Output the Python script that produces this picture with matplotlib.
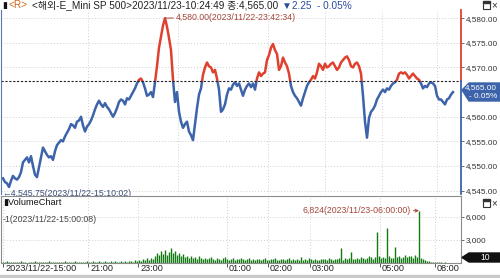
import numpy as np
import matplotlib
matplotlib.use('Agg')
import matplotlib.pyplot as plt
from matplotlib.patches import Rectangle, Polygon
from matplotlib.transforms import ScaledTranslation

plt.rcParams['font.family'] = ['Liberation Sans', 'Noto Sans CJK KR', 'DejaVu Sans']

# E-mini S&P 500, 2023/11/22 15:00 ~ 2023/11/23 10:24 (one value per chart step)
prices = [
    4547.5, 4546.75, 4546.5, 4545.75, 4547.0, 4548.0, 4547.5, 4547.25, 4547.75, 4548.75,
    4550.75, 4551.25, 4551.75, 4550.75, 4552.0, 4550.0, 4548.25, 4547.75, 4549.75, 4551.75,
    4553.75, 4553.0, 4552.25, 4551.75, 4552.0, 4551.25, 4553.0, 4554.25, 4554.75, 4555.25,
    4555.0, 4556.0, 4556.75, 4557.5, 4558.5, 4558.25, 4557.75, 4559.0, 4559.25, 4560.0,
    4558.25, 4557.0, 4558.0, 4558.5, 4559.25, 4560.25, 4561.5, 4562.5, 4563.25, 4562.5,
    4562.0, 4562.75, 4562.0, 4561.5, 4560.75, 4560.0, 4560.75, 4561.75, 4563.0, 4563.5,
    4563.25, 4562.5, 4563.75, 4563.5, 4564.25, 4565.0, 4565.75, 4566.75, 4567.5, 4567.75,
    4567.0, 4565.75, 4564.25, 4564.5, 4565.0, 4564.0, 4567.0, 4570.25, 4574.0, 4576.25,
    4578.5, 4580.0, 4578.25, 4576.0, 4573.5, 4567.5, 4563.0, 4565.0, 4561.0, 4559.0,
    4557.75, 4558.5, 4559.0, 4557.0, 4556.25, 4555.25, 4558.5, 4561.75, 4564.5, 4565.75,
    4568.5, 4570.0, 4571.0, 4570.25, 4570.0, 4569.0, 4569.5, 4567.75, 4565.5, 4561.0,
    4561.5, 4562.5, 4564.5, 4565.75,
    4565.5, 4566.5, 4567.0, 4566.25, 4566.75, 4565.5, 4564.25, 4565.5, 4566.25, 4566.75,
    4566.0, 4566.75, 4565.5, 4567.75, 4569.0, 4568.25, 4568.75, 4569.0, 4571.5, 4572.5,
    4574.0, 4574.75, 4573.5, 4572.75, 4569.5, 4570.25, 4572.0, 4571.0, 4570.25, 4568.75,
    4566.25, 4565.0, 4564.25, 4563.75, 4563.0, 4562.25, 4563.75, 4565.0, 4566.25, 4567.0,
    4567.5, 4568.25, 4567.75, 4569.0, 4570.75, 4570.25, 4569.5, 4570.75, 4570.0, 4570.25,
    4570.75, 4571.0, 4570.25, 4569.5, 4570.0,
    4571.0, 4571.5, 4572.0, 4572.25, 4571.5, 4570.25, 4570.0, 4570.75, 4571.0, 4570.25,
    4568.75, 4564.25, 4559.0, 4555.75, 4559.75, 4561.0, 4561.5, 4562.25, 4563.5, 4564.25,
    4565.0, 4565.5, 4565.0, 4565.75, 4565.5, 4566.25, 4566.75, 4567.0, 4567.5, 4568.75,
    4569.0, 4568.75, 4569.0, 4568.5, 4567.75, 4568.25, 4568.75, 4568.25, 4567.75, 4567.5,
    4566.75, 4565.75, 4566.25, 4566.0, 4566.75, 4567.0, 4566.75, 4566.25, 4564.25, 4563.5,
    4563.5, 4563.0, 4562.5, 4563.5, 4563.75, 4564.5, 4565.0,
]

volumes = [
    150, 90, 260, 120, 80, 180, 110, 70, 140, 200,
    90, 130, 60, 170, 110, 80, 220, 100, 140, 90,
    120, 70, 160, 210, 90, 130, 100, 180, 80, 150,
    110, 260, 140, 90, 170, 120, 300, 100, 150, 130,
    180, 110, 240, 160, 90, 200, 130, 170, 220, 140,
    110, 260, 180, 150, 320, 120, 200, 170, 140, 250,
    190, 300, 160, 220, 280, 180, 350, 240, 420, 300,
    520, 380, 600, 450, 700, 520, 900, 1300, 1100, 1500,
    1200, 1700, 1050, 1400, 1900, 1250, 1600, 1000, 1350, 900,
    1150, 800, 950, 700, 850, 600, 750, 500, 900, 650,
    550, 700, 480, 620, 800, 520, 450, 680, 560, 400,
    600, 750, 500, 420, 580, 650, 380, 520, 460, 700,
    550, 400, 480, 620, 350, 500, 430, 580, 470, 390,
    520, 610, 450, 360, 540, 480, 700, 420, 380, 560,
    460, 330, 500, 620, 410, 480, 370, 540, 450, 800,
    420, 510, 380, 600, 470, 350, 520, 440, 390, 580,
    460, 520, 380, 640, 500, 420, 560, 480, 600, 1950,
    450, 620, 520, 700, 1430, 560, 480, 650, 540, 720,
    600, 500, 680, 950, 720, 560, 800, 4040, 900, 650,
    780, 600, 4560, 850, 700, 620, 2090, 760, 900, 680,
    820, 1000, 740, 880, 950, 700, 1100, 800, 6824, 600,
    520, 420, 300, 200, 150, 120, 90, 140, 80, 110,
    60, 90, 50, 40, 30, 10,
]

prev_close = 4567.25
last_price = 4565.00
change = -2.25
change_pct = -0.05
hi_time = '2023/11/22-23:42:34'
lo_time = '2023/11/22-15:10:02'
vol_max_time = '2023/11/23-06:00:00'
vol_min_text = '-1(2023/11/22-15:00:08)'
now_text = '2023/11/23-10:24:49'

tick_pos = [0, 42.5, 67.5, 112, 132.5, 153.5, 188.5, 216]
tick_labels = ['2023/11/22-15:00', '21:00', '23:00', '01:00', '02:00', '03:00', '05:00', '08:00']
vgrid_pos = [42.5, 87.5, 132.5, 161, 189.5, 217]
price_ticks = [4545, 4550, 4555, 4560, 4570, 4575, 4580]
vol_ticks = [3000, 6000]

BLUE = '#3d64aa'
RED = '#e0412f'
GREEN = '#117a11'
BROWN = '#a5453a'
GRID = '#cfcfcf'

W, H = 500, 278
fig = plt.figure(figsize=(5, 2.78), dpi=100)


def rect(x0, y0, x1, y1):
    return [x0 / W, 1 - y1 / H, (x1 - x0) / W, (y1 - y0) / H]


x = np.arange(len(prices))
prices = np.array(prices)
volumes = np.array(volumes)

# ---- price panel
ax = fig.add_axes(rect(1, 10, 461, 194))
ax.set_xlim(-1, 229)
ax.set_ylim(4544.33, 4581.65)
for s in ax.spines.values():
    s.set_visible(False)
ax.spines['left'].set_visible(True)
ax.spines['left'].set_color('#5a78b0')

up = ax.plot(x, prices, color=RED, lw=1.8)[0]
dn = ax.plot(x, prices, color=BLUE, lw=1.8)[0]
up.set_clip_path(Rectangle((-10, prev_close), 300, 100, transform=ax.transData))
dn.set_clip_path(Rectangle((-10, prev_close - 100), 300, 100, transform=ax.transData))

ax.axhline(prev_close, color='#222222', ls=(0, (2, 1.5)), lw=0.8)
ref_frac = (prev_close - 4544.33) / (4581.65 - 4544.33)
ax.axvline(229, ymin=ref_frac, ymax=1, color=RED, lw=1.3, clip_on=False)
ax.axvline(229, ymin=0, ymax=ref_frac, color=BLUE, lw=1.3, clip_on=False)

ax.set_yticks(price_ticks, [f'{p:,.2f}' for p in price_ticks])
ax.set_xticks(vgrid_pos, [])
ax.tick_params(axis='y', left=False, right=True, labelleft=False, labelright=True,
               length=2.5, width=0.6, color='#555555', pad=0.8, labelsize=5.9, labelcolor='#333333')
ax.tick_params(axis='x', length=0)
ax.grid(color=GRID, ls=(0, (1, 2)), lw=0.7)

hi_i = int(np.argmax(prices))
ax.annotate(f'{prices[hi_i]:,.2f}({hi_time})', xy=(hi_i, prices[hi_i]), xytext=(8, 0.5),
            textcoords='offset points', ha='left', va='center', fontsize=6.3, color=BROWN,
            arrowprops=dict(arrowstyle='-', color=BROWN, lw=0.7, shrinkA=0, shrinkB=0))
lo_i = int(np.argmin(prices))
ax.annotate(f'←{prices[lo_i]:,.2f}({lo_time})', xy=(lo_i, prices[lo_i]), xytext=(-4.5, -4.5),
            textcoords='offset points', ha='left', va='center', fontsize=6.3, color='#3a4f78',
            annotation_clip=False)

# current price tag
fig.patches.append(Polygon([(462 / W, 1 - 90 / H), (469 / W, 1 - 83 / H), (1, 1 - 83 / H),
                            (1, 1 - 101 / H), (469 / W, 1 - 101 / H)],
                           closed=True, transform=fig.transFigure, color=BLUE))
fig.text(497 / W, 1 - 88 / H, f'{last_price:,.2f}', ha='right', va='center', fontsize=5.9, color='white')
fig.text(497 / W, 1 - 96.5 / H, f'- {abs(change_pct):.2f}%', ha='right', va='center', fontsize=5.9, color='white')

# ---- volume panel
ax2 = fig.add_axes(rect(1, 196, 461, 263))
ax2.vlines(x, 0, volumes, color=GREEN, lw=1.0)
ax2.set_xlim(-1, 229)
ax2.set_ylim(0, 8739)
for s in ['top', 'bottom', 'right', 'left']:
    ax2.spines[s].set_color('#8c8c8c')
    ax2.spines[s].set_linewidth(0.8)
ax2.set_yticks(vol_ticks, [f'{v:,}' for v in vol_ticks])
ax2.set_xticks(tick_pos, tick_labels)
ax2.tick_params(axis='y', left=False, right=True, labelleft=False, labelright=True,
                length=2.5, width=0.6, color='#555555', pad=0.8, labelsize=5.9, labelcolor='#333333')
ax2.tick_params(axis='x', length=3, width=0.7, color='#555555', pad=-2.2, labelsize=6.6, labelcolor='#222222')
shift = ScaledTranslation(1.5 / 72, 0, fig.dpi_scale_trans)
for lab in ax2.get_xticklabels():
    lab.set_horizontalalignment('left')
    lab.set_transform(lab.get_transform() + shift)
ax2.grid(color=GRID, ls=(0, (1, 2)), lw=0.7)

vm_i = int(np.argmax(volumes))
ax2.annotate(f'{volumes[vm_i]:,}({vol_max_time})', xy=(vm_i, volumes[vm_i]), xytext=(-6, 0),
             textcoords='offset points', ha='right', va='center', fontsize=6.3, color=BROWN,
             arrowprops=dict(arrowstyle='->', color=BROWN, lw=0.7, shrinkA=0, shrinkB=0,
                             mutation_scale=5))

fig.text(3 / W, 1 - 203 / H, '▮VolumeChart', ha='left', va='center', fontsize=6.6, color='#111111')
fig.text(3 / W, 1 - 219 / H, vol_min_text, ha='left', va='center', fontsize=6.3, color='#444444')

fig.patches.append(Polygon([(462 / W, 1 - 257.5 / H), (469 / W, 1 - 253 / H), (1, 1 - 253 / H),
                            (1, 1 - 262 / H), (469 / W, 1 - 262 / H)],
                           closed=True, transform=fig.transFigure, color='#111111'))
fig.text(485 / W, 1 - 257.5 / H, f'{volumes[-1]}', ha='center', va='center', fontsize=6.2, color='white')

# ---- title line
t0 = fig.text(2 / W, 1 - 5.5 / H, '▮', ha='left', va='center', fontsize=6.5, color='#111111')
t1 = ax.annotate('<R>', xy=(1, 0.5), xycoords=t0, xytext=(1, 0), textcoords='offset points',
                 va='center', fontsize=7.2, color='#d2691e', annotation_clip=False)
t2 = ax.annotate(f'<해외-E_Mini SP 500>{now_text} 종:{last_price:,.2f}', xy=(1, 0.5), xycoords=t1,
                 xytext=(3, 0), textcoords='offset points', va='center', fontsize=7.2,
                 color='#222222', annotation_clip=False)
ax.annotate(f'▼{abs(change):.2f}  - {abs(change_pct):.2f}%', xy=(1, 0.5), xycoords=t2,
            xytext=(3, 0), textcoords='offset points', va='center', fontsize=7.2,
            color='#2b4c9a', annotation_clip=False)

# window buttons
for yb in [5, 203]:
    fig.patches.append(Rectangle((483 / W, 1 - (yb + 3.5) / H), 7 / W, 7 / H, transform=fig.transFigure,
                                 fill=False, ec='#333333', lw=0.8))
    fig.patches.append(Rectangle((483 / W, 1 - (yb - 2.5) / H), 7 / W, 1.5 / H, transform=fig.transFigure,
                                 color='#333333'))
    fig.text(494 / W, 1 - yb / H, '×', ha='center', va='center', fontsize=7, color='#333333')

# bottom scroll strip
fig.patches.append(Rectangle((0, 0), 1, 3.5 / H, transform=fig.transFigure, color='#c9c9c9'))

fig.savefig('out.png', dpi=100)
